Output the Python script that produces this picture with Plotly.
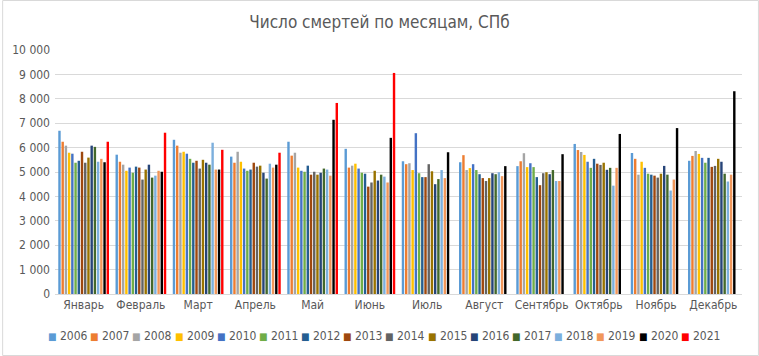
import plotly.graph_objects as go

months = ["Январь", "Февраль", "Март", "Апрель", "Май", "Июнь", "Июль",
          "Август", "Сентябрь", "Октябрь", "Ноябрь", "Декабрь"]
years = ["2006", "2007", "2008", "2009", "2010", "2011", "2012", "2013",
         "2014", "2015", "2016", "2017", "2018", "2019", "2020", "2021"]

# values per year, Jan..Dec
y2006 = [6690, 5710, 6320, 5630, 6240, 5950, 5440, 5400, 5240, 6150, 5780, 5460]
y2007 = [6240, 5420, 6080, 5380, 5670, 5180, 5320, 5690, 5440, 5900, 5540, 5660]
y2008 = [6080, 5300, 5790, 5830, 5790, 5260, 5360, 5080, 5770, 5820, 4890, 5860]
y2009 = [5790, 5050, 5830, 5420, 5180, 5340, 5080, 5160, 5200, 5700, 5420, 5740]
y2010 = [5750, 5180, 5750, 5140, 5050, 5140, 6590, 5320, 5360, 5420, 5170, 5580]
y2011 = [5380, 4970, 5540, 5050, 5010, 4970, 4950, 5080, 5200, 5170, 4930, 5380]
y2012 = [5460, 5220, 5380, 5100, 5260, 4930, 4790, 4910, 4790, 5540, 4890, 5580]
y2013 = [5830, 5180, 5460, 5380, 4890, 4400, 4790, 4750, 4460, 5340, 4850, 5210]
y2014 = [5380, 4690, 5140, 5220, 5010, 4570, 5320, 4630, 4950, 5290, 4770, 5250]
y2015 = [5590, 5100, 5500, 5260, 4890, 5050, 5030, 4750, 4990, 5380, 4930, 5540]
y2016 = [6080, 5300, 5380, 4970, 4970, 4650, 4500, 4950, 4910, 5090, 5250, 5420]
y2017 = [6030, 4770, 5300, 4730, 5140, 4890, 4710, 4910, 5080, 5170, 4890, 4930]
y2018 = [5420, 4850, 6200, 5340, 5100, 4810, 5080, 4990, 4630, 4440, 4240, 4610]
y2019 = [5540, 5050, 5100, 5180, 4850, 4570, 4750, 4830, 4630, 5170, 4690, 4890]
y2020 = [5400, 5010, 5100, 5300, 7140, 6400, 5810, 5240, 5730, 6560, 6800, 8310]
y2021 = [6240, 6610, 5910, 5790, 7830, 9060, None, None, None, None, None, None]

series = [y2006, y2007, y2008, y2009, y2010, y2011, y2012, y2013,
          y2014, y2015, y2016, y2017, y2018, y2019, y2020, y2021]

colors = ["#5B9BD5", "#ED7D31", "#A5A5A5", "#FFC000", "#4472C4", "#70AD47",
          "#255E91", "#9E480E", "#636363", "#997300", "#264478", "#43682B",
          "#7CAFDD", "#F1975A", "#000000", "#FF0000"]

tickvals = list(range(0, 10001, 1000))
ticktext = ["0", "1 000", "2 000", "3 000", "4 000", "5 000", "6 000",
            "7 000", "8 000", "9 000", "10 000"]

FONT = "Liberation Sans Narrow, DejaVu Sans Condensed, Arial Narrow, sans-serif"

W, H = 759, 356
ML, MR, MT, MB = 53, 17, 50, 62
PW, PH = W - ML - MR, H - MT - MB

fig = go.Figure()
for yr, vals, col in zip(years, series, colors):
    fig.add_trace(go.Bar(name=yr, x=months, y=vals, marker_color=col,
                         marker_line_width=0, showlegend=False))

# custom legend (one row, as in the reference)
annotations = []
leg_x0, leg_step, leg_y = 44, 42.3, 336
for i, (yr, col) in enumerate(zip(years, colors)):
    px = leg_x0 + i * leg_step
    annotations.append(dict(
        xref="paper", yref="paper",
        x=(px - ML) / PW, y=(H - MB - leg_y) / PH,
        xanchor="left", yanchor="middle", showarrow=False,
        text=f"<span style='color:{col};font-size:10px'>■</span> {yr}",
        font=dict(family=FONT, size=12, color="#595959")))

fig.update_layout(
    width=W, height=H,
    barmode="group", bargap=0.1, bargroupgap=0.25,
    paper_bgcolor="white", plot_bgcolor="white",
    margin=dict(l=ML, r=MR, t=MT, b=MB),
    font=dict(family=FONT, size=12, color="#595959"),
    title=dict(text="Число смертей по месяцам, СПб", x=0.5, xanchor="center",
               y=1 - 22 / H, yanchor="middle",
               font=dict(family=FONT, size=17, color="#595959")),
    xaxis=dict(showgrid=False, showline=True, linecolor="#D9D9D9",
               ticks="", tickfont=dict(size=12)),
    yaxis=dict(range=[0, 10000], tickvals=tickvals, ticktext=ticktext,
               showgrid=True, gridcolor="#D9D9D9", zeroline=False,
               ticks="", tickfont=dict(size=12), ticklabelstandoff=4),
    showlegend=False,
    annotations=annotations,
    shapes=[dict(type="rect", xref="paper", yref="paper",
                 x0=(0.5 - ML) / PW, x1=(W - 0.5 - ML) / PW,
                 y0=-(MB - 0.5) / PH, y1=1 + (MT - 0.5) / PH,
                 line=dict(color="#D9D9D9", width=1), fillcolor="rgba(0,0,0,0)")],
)

fig.write_html("out.html", config={"displayModeBar": False},
               post_script="document.body.style.margin='0';document.body.style.overflow='hidden';")
